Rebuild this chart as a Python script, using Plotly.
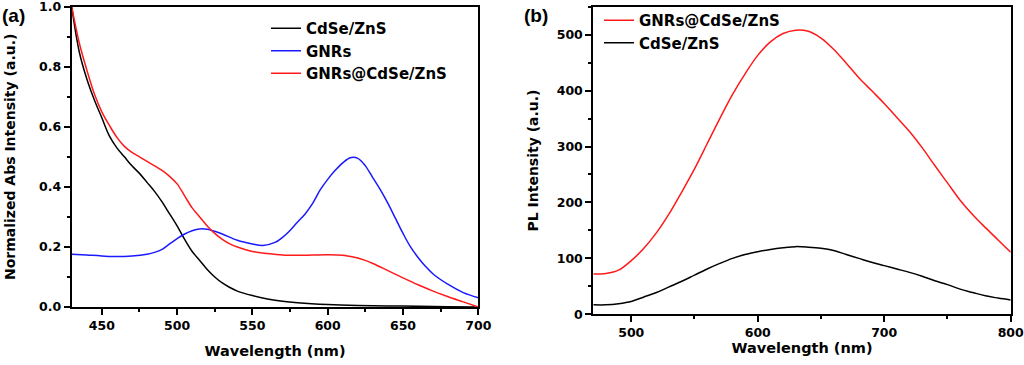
import plotly.graph_objects as go

# ---------------- Panel (a) data: normalized absorbance ----------------
wl_cdse_a = [430, 435, 440, 445, 450, 455, 460, 465, 470, 475, 480, 485, 490, 495, 500,
             505, 510, 515, 520, 525, 530, 535, 540, 550, 560, 570, 580, 600, 620, 650, 680, 700]
abs_cdse = [1.0, 0.85, 0.76, 0.69, 0.63, 0.57, 0.53, 0.50, 0.47, 0.445, 0.415, 0.385, 0.35, 0.31, 0.27,
            0.225, 0.185, 0.155, 0.125, 0.10, 0.08, 0.065, 0.053, 0.038, 0.027, 0.019, 0.014, 0.008,
            0.005, 0.003, 0.001, 0.0]

wl_gnr_a = [430, 440, 450, 460, 470, 480, 485, 490, 495, 500, 505, 510, 515, 520, 525, 530, 540,
            550, 557, 565, 570, 575, 580, 585, 590, 595, 600, 605, 610, 615, 620, 625, 630, 635,
            640, 645, 650, 655, 660, 665, 670, 680, 690, 700]
abs_gnr = [0.176, 0.173, 0.170, 0.168, 0.170, 0.176, 0.182, 0.192, 0.21, 0.228, 0.243, 0.254, 0.26,
           0.259, 0.252, 0.243, 0.222, 0.21, 0.205, 0.215, 0.232, 0.255, 0.283, 0.31, 0.345, 0.39,
           0.425, 0.455, 0.48, 0.497, 0.495, 0.47, 0.43, 0.39, 0.345, 0.295, 0.245, 0.2, 0.165,
           0.135, 0.11, 0.075, 0.048, 0.031]

wl_hyb_a = [430, 435, 440, 445, 450, 455, 460, 465, 470, 475, 480, 485, 490, 495, 500, 505, 510,
            515, 520, 525, 530, 535, 540, 550, 560, 570, 580, 590, 600, 610, 620, 630, 640,
            650, 660, 670, 680, 690, 700]
abs_hyb = [1.0, 0.88, 0.79, 0.71, 0.65, 0.605, 0.565, 0.535, 0.515, 0.50, 0.485, 0.47, 0.455, 0.435,
           0.41, 0.37, 0.33, 0.30, 0.27, 0.245, 0.225, 0.21, 0.20, 0.185, 0.178, 0.173, 0.172, 0.173,
           0.174, 0.172, 0.163, 0.145, 0.121, 0.097, 0.074, 0.053, 0.034, 0.017, 0.0]

# ---------------- Panel (b) data: PL intensity ----------------
wl_b = [470, 480, 490, 500, 510, 520, 530, 540, 550, 560, 570, 580, 590, 600, 610, 620, 630, 640,
        650, 660, 670, 680, 690, 700, 710, 720, 730, 740, 750, 760, 770, 780, 790, 800]
pl_hyb = [72, 73, 79, 96, 118, 146, 180, 219, 260, 305, 350, 393, 430, 463, 487, 502, 508, 506,
          494, 474, 449, 423, 400, 377, 352, 327, 298, 266, 235, 204, 178, 155, 133, 111]
pl_cdse = [17, 17, 19, 23, 31, 39, 49, 59, 70, 81, 91, 100, 107, 112, 116, 119, 121, 120,
           118, 114, 107, 100, 93, 87, 81, 75, 68, 60, 53, 45, 39, 33, 29, 25.5]

labels_a = ["CdSe/ZnS", "GNRs", "GNRs@CdSe/ZnS"]
labels_b = ["GNRs@CdSe/ZnS", "CdSe/ZnS"]

yticks_a = [0.0, 0.2, 0.4, 0.6, 0.8, 1.0]
xticks_a = [450, 500, 550, 600, 650, 700]
yticks_b = [0, 100, 200, 300, 400, 500]
xticks_b = [500, 600, 700, 800]

W, H = 1024, 365
FONT = "DejaVu Sans"
bold = dict(family=FONT, weight="bold", color="black")

fig = go.Figure()
fig.add_trace(go.Scatter(x=wl_cdse_a, y=abs_cdse, name=labels_a[0], mode="lines", line_shape="spline",
                         line=dict(color="black", width=1.5), xaxis="x", yaxis="y", legend="legend", legendgroup="a1"))
fig.add_trace(go.Scatter(x=wl_gnr_a, y=abs_gnr, name=labels_a[1], mode="lines", line_shape="spline",
                         line=dict(color="#1a1aff", width=1.5), xaxis="x", yaxis="y", legend="legend", legendgroup="a2"))
fig.add_trace(go.Scatter(x=wl_hyb_a, y=abs_hyb, name=labels_a[2], mode="lines", line_shape="spline",
                         line=dict(color="#ff1a1a", width=1.5), xaxis="x", yaxis="y", legend="legend", legendgroup="a3"))
fig.add_trace(go.Scatter(x=wl_b, y=pl_hyb, name=labels_b[0], mode="lines", line_shape="spline",
                         line=dict(color="#ff1a1a", width=1.5), xaxis="x2", yaxis="y2", legend="legend2", legendgroup="b1"))
fig.add_trace(go.Scatter(x=wl_b, y=pl_cdse, name=labels_b[1], mode="lines", line_shape="spline",
                         line=dict(color="black", width=1.5), xaxis="x2", yaxis="y2", legend="legend2", legendgroup="b2"))

ax_common = dict(showline=True, linecolor="black", linewidth=2, mirror=True, showgrid=False,
                 zeroline=False, ticks="outside", ticklen=6, tickwidth=1.5, tickcolor="black",
                 automargin=False, ticklabeloverflow="allow", tickfont=dict(size=12.5, **bold))
minor_base = dict(ticks="outside", ticklen=3, tickwidth=1.5, tickcolor="black", showgrid=False)

fig.update_layout(
    width=W, height=H,
    margin=dict(l=0, r=0, t=0, b=0, autoexpand=False),
    paper_bgcolor="white", plot_bgcolor="white",
    xaxis=dict(domain=[71.7 / W, 478.3 / W], anchor="y", range=[430, 700], tickmode="array", tickvals=xticks_a,
               title=dict(text="Wavelength (nm)", font=dict(size=14.5, **bold), standoff=14),
               minor=dict(dtick=25, tick0=425, **minor_base), **ax_common),
    yaxis=dict(domain=[(H - 307) / H, (H - 6.7) / H], anchor="x", range=[0, 1], tickmode="array",
               tickvals=yticks_a, tickformat=".1f",
               title=dict(text="Normalized Abs Intensity (a.u.)", font=dict(size=14, **bold), standoff=20),
               minor=dict(dtick=0.1, tick0=0, **minor_base), **ax_common),
    xaxis2=dict(domain=[593.3 / W, 1010.7 / W], anchor="y2", range=[470, 800], tickmode="array", tickvals=xticks_b,
                title=dict(text="Wavelength (nm)", font=dict(size=14.5, **bold), standoff=4),
                minor=dict(dtick=50, tick0=450, **minor_base), **ax_common),
    yaxis2=dict(domain=[(H - 314.3) / H, (H - 6.7) / H], anchor="x2", range=[0, 550], tickmode="array",
                tickvals=yticks_b,
                title=dict(text="PL Intensity (a.u.)", font=dict(size=14, **bold), standoff=15),
                minor=dict(dtick=50, tick0=0, **minor_base), **ax_common),
    legend=dict(x=266 / W, y=(H - 12) / H, xanchor="left", yanchor="top", bgcolor="rgba(0,0,0,0)",
                font=dict(size=15, **bold), tracegroupgap=0),
    legend2=dict(x=599 / W, y=(H - 4) / H, xanchor="left", yanchor="top", bgcolor="rgba(0,0,0,0)",
                 font=dict(size=15, **bold), tracegroupgap=0),
    annotations=[
        dict(text="(a)", x=13 / W, y=(H - 15) / H, xref="paper", yref="paper", showarrow=False,
             xanchor="center", yanchor="middle", font=dict(family="Liberation Sans", size=19, weight="bold", color="black")),
        dict(text="(b)", x=536 / W, y=(H - 15) / H, xref="paper", yref="paper", showarrow=False,
             xanchor="center", yanchor="middle", font=dict(family="Liberation Sans", size=19, weight="bold", color="black")),
    ],
)

fig.write_html("out.html", config={"displayModeBar": False},
               post_script="document.body.style.margin='0';")
